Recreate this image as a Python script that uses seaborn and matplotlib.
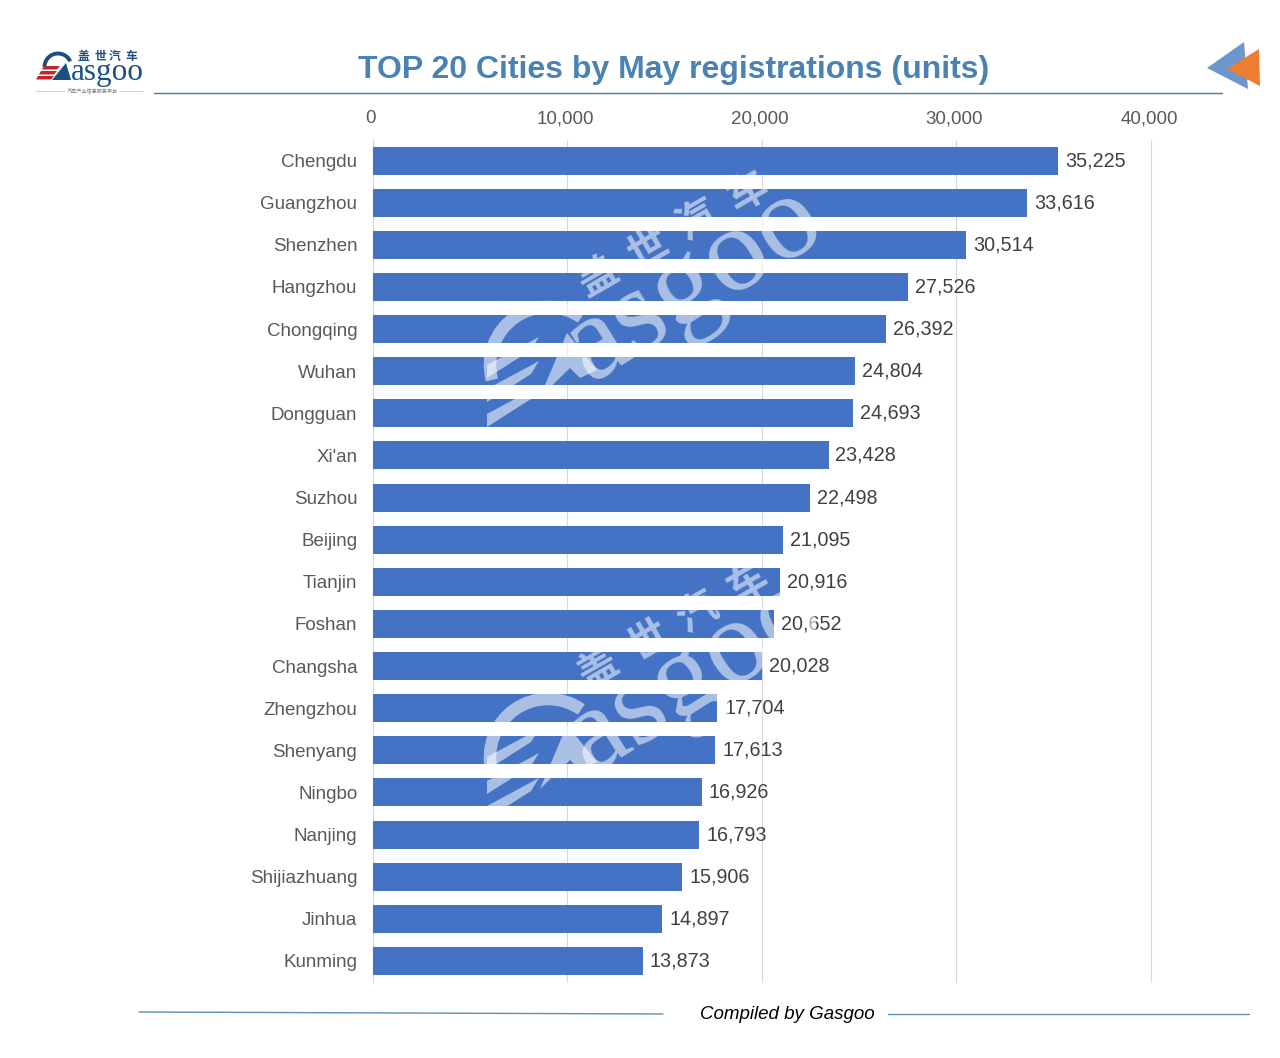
import matplotlib
matplotlib.use("Agg")
import matplotlib.pyplot as plt
from matplotlib.patches import Polygon, Arc
from matplotlib.transforms import ScaledTranslation
import pandas as pd
import seaborn as sns

# === Data ===
cities = ["Chengdu", "Guangzhou", "Shenzhen", "Hangzhou", "Chongqing", "Wuhan", "Dongguan",
          "Xi'an", "Suzhou", "Beijing", "Tianjin", "Foshan", "Changsha", "Zhengzhou",
          "Shenyang", "Ningbo", "Nanjing", "Shijiazhuang", "Jinhua", "Kunming"]
registrations = [35225, 33616, 30514, 27526, 26392, 24804, 24693, 23428, 22498, 21095,
                 20916, 20652, 20028, 17704, 17613, 16926, 16793, 15906, 14897, 13873]
x_ticks = [0, 10000, 20000, 30000, 40000]
brand_chars = ["盖", "世", "汽", "车"]

W, H = 1280, 1058
SANS = ["Liberation Sans", "DejaVu Sans"]
SERIF = "Liberation Serif"
CJK = ["Noto Sans CJK SC", "DejaVu Sans"]

sns.set_theme(style="white")
plt.rcParams["font.family"] = SANS

df = pd.DataFrame({"city": cities, "registrations": registrations})

fig = plt.figure(figsize=(W / 100, H / 100), dpi=100, facecolor="white")
ax = fig.add_axes([372.6 / W, 1 - 982 / H, 778.4 / W, 842.5 / H])

sns.barplot(data=df, x="registrations", y="city", orient="h", color="#4472C4",
            saturation=1, width=0.667, linewidth=0, ax=ax, zorder=3)
ax.set_xlim(0, 40000)
ax.set_ylim(len(cities) - 0.5, -0.5)
ax.set_xlabel("")
ax.set_ylabel("")

# Axis on top, only vertical grid
ax.xaxis.tick_top()
ax.set_xticks(x_ticks)
ax.set_xticklabels([f"{v:,}" for v in x_ticks], fontsize=13.5, color="#595959")
ax.tick_params(axis="x", length=0, pad=9)
ax.tick_params(axis="y", length=0, pad=11, labelsize=13.5, labelcolor="#595959")
ax.grid(axis="x", color="#D9D9D9", lw=0.8, clip_on=False)
ax.set_axisbelow(True)
sns.despine(ax=ax, top=True, right=True, bottom=True, left=False)
ax.spines["left"].set_color("#D9D9D9")
ax.spines["left"].set_linewidth(0.8)

ax.bar_label(ax.containers[0], fmt="{:,.0f}", padding=5, fontsize=14.2, color="#404040", zorder=4)

# Nudge x tick labels a little to sit where the reference has them
for lab in ax.get_xticklabels():
    lab.set_transform(lab.get_transform() + ScaledTranslation(-2 / 100, 0, fig.dpi_scale_trans))

# === Overlay in pixel coordinates (header, footer, logo, watermark) ===
ov = fig.add_axes([0, 0, 1, 1], facecolor="none")
ov.set_xlim(0, W)
ov.set_ylim(H, 0)
ov.axis("off")

ov.text(673.5, 70, "TOP 20 Cities by May registrations (units)", ha="center", va="center",
        fontsize=23, fontweight="bold", color="#4A82B4")
ov.plot([154, 1222], [92.5, 92.5], color="#3E7F9E", lw=1)

# Arrows top right
ov.add_patch(Polygon([(1207, 68), (1244, 42), (1248, 89)], color="#6C96CC", lw=0))
ov.add_patch(Polygon([(1227, 69), (1259, 49), (1260, 86)], color="#ED7D31", lw=0))

# Footer
ov.plot([139, 663], [1012, 1014], color="#5C8FB0", lw=1)
ov.plot([888, 1249], [1014, 1014], color="#5C8FB0", lw=1)
ov.text(787, 1014.5, "Compiled by Gasgoo", ha="center", va="center", fontsize=13.5,
        style="italic", color="black")

# Logo
LOGO = "#1B4F80"
ov.text(71, 80, "asgoo", ha="left", va="baseline", family=SERIF, fontsize=22.5, color=LOGO)
ov.add_patch(Arc((58, 67), 27, 27, theta1=180, theta2=335, color=LOGO, lw=2.8))
ov.add_patch(Polygon([(52, 80), (66, 63), (71, 80)], color=LOGO, lw=0))
for y0, x0 in ((66, 42), (71, 39), (76, 36)):
    ov.add_patch(Polygon([(x0 + 2, y0), (x0 + 18, y0), (x0 + 15, y0 + 3.5), (x0, y0 + 3.5)],
                         color="#C0272D", lw=0))
for ch, cx in zip(brand_chars, (83, 100, 115, 131)):
    ov.text(cx, 56.5, ch, ha="center", va="center", family=CJK, fontsize=8.5,
            fontweight="bold", color=LOGO)
ov.text(92, 91, "汽车产业信息服务平台", ha="center", va="center", family=CJK, fontsize=3.7, color="#777777")
ov.plot([36, 64], [91, 91], color="#CCCCCC", lw=0.7)
ov.plot([119, 143], [91, 91], color="#CCCCCC", lw=0.7)

# Watermark, repeated twice
WM = dict(color="white", alpha=0.55, zorder=5)
for dy in (0, 392):
    ov.text(590, 383 + dy, "asgoo", ha="left", va="baseline", rotation=32, rotation_mode="anchor",
            family=SERIF, fontsize=87, **WM)
    ov.add_patch(Arc((548, 365 + dy), 116, 116, theta1=165, theta2=305, angle=0,
                     color="white", alpha=0.55, lw=9, zorder=5))
    ov.add_patch(Polygon([(540, 397 + dy), (567, 333 + dy), (597, 370 + dy), (580, 378 + dy), (570, 368 + dy)],
                         lw=0, **WM))
    # slanted stripes of the G, each end cut on the diagonal
    for x0, y0 in ((487, 365), (487, 389), (487, 414)):
        ov.add_patch(Polygon([(x0, y0 + dy), (x0 + 52, y0 - 28 + dy), (x0 + 44, y0 - 15 + dy), (x0, y0 + 13 + dy)],
                             lw=0, **WM))
    for i, ch in enumerate(brand_chars):
        ov.text(598 + 50 * i, 277 - 28.3 * i + dy, ch, ha="center", va="center", rotation=30,
                rotation_mode="anchor", family=CJK, fontsize=29, fontweight="bold", **WM)

fig.savefig("out.png", dpi=100)
